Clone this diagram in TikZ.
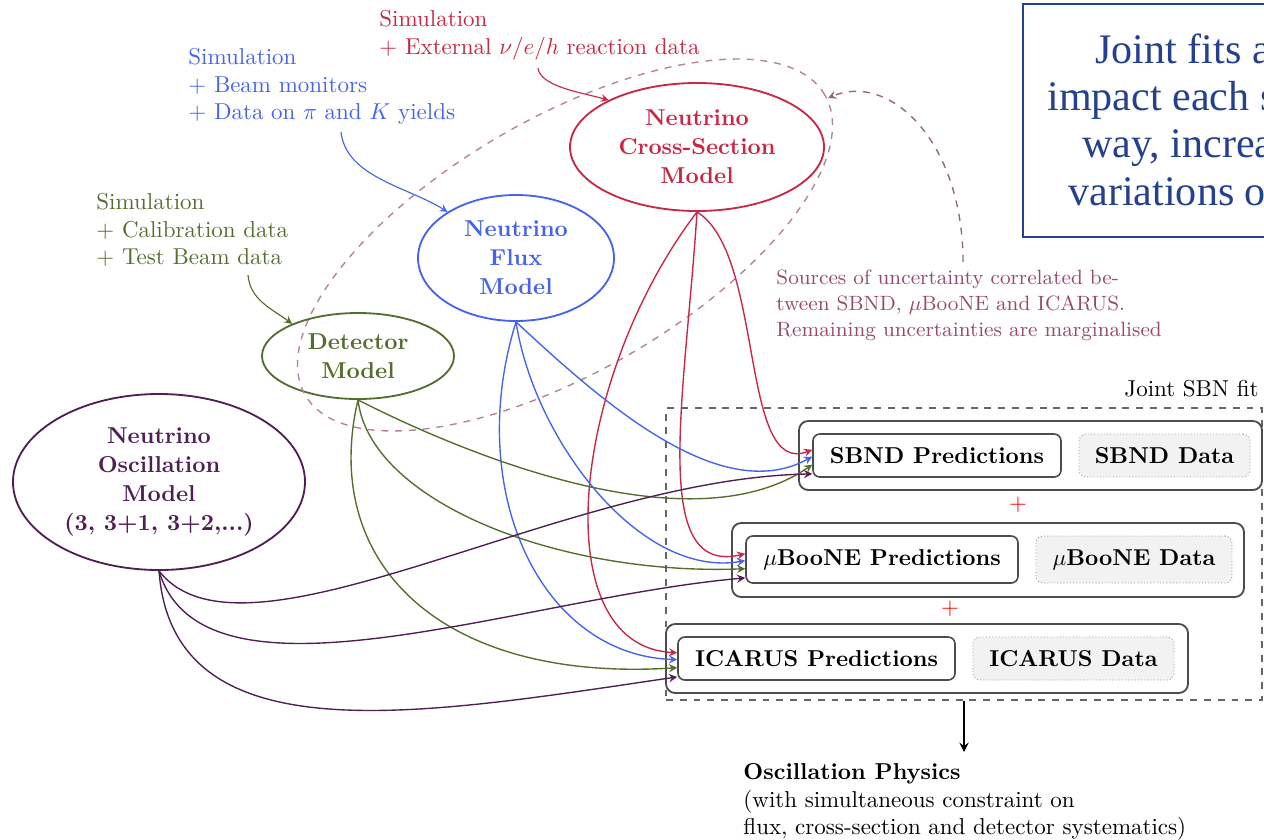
\documentclass[tikz,border=0pt]{standalone}
\usepackage{fontspec}
\newfontfamily\jointfont{Liberation Serif}
\usetikzlibrary{shapes.geometric}
\definecolor{xsecred}{RGB}{200,40,70}
\definecolor{fluxblue}{RGB}{70,100,235}
\definecolor{detgreen}{RGB}{85,110,45}
\definecolor{oscpurple}{RGB}{80,30,85}
\definecolor{corrmauve}{RGB}{180,130,155}
\definecolor{srcmauve}{RGB}{150,75,110}
\definecolor{jointblue}{RGB}{35,65,140}
\newcommand{\pxl}{0.435pt}
\tikzset{>=stealth,
  model/.style={ellipse, draw, line width=0.8pt, font=\bfseries\fontsize{10}{12.6}\selectfont, align=center, inner sep=0pt},
  inputtext/.style={anchor=north west, align=left, inner sep=0pt},
  link/.style={->, line width=0.6pt},
  rowbox/.style={draw=black!70, line width=0.8pt, rounded corners=4pt, minimum height=69*\pxl, inner sep=0pt},
  predbox/.style={draw=black!70, line width=0.7pt, rounded corners=3pt, font=\bfseries, minimum height=43*\pxl, inner sep=0pt},
  databox/.style={draw=black!40, densely dotted, fill=black!5, rounded corners=3pt, font=\bfseries, minimum height=43*\pxl, inner sep=0pt}
}
\begin{document}
\begin{tikzpicture}[x=\pxl,y=-\pxl]
\useasboundingbox (0,0) rectangle (1264,839);
\clip (0,0) rectangle (1264,839);
% models
\node[model, draw=oscpurple, text=oscpurple, minimum width=292*\pxl, minimum height=176*\pxl] (osc) at (159,482) {Neutrino\\Oscillation\\Model\\(3, 3+1, 3+2,...)};
\node[model, draw=detgreen, text=detgreen, minimum width=192*\pxl, minimum height=86*\pxl] (det) at (358,356) {Detector\\Model};
\node[model, draw=fluxblue, text=fluxblue, minimum width=196*\pxl, minimum height=126*\pxl] (flux) at (516,258) {Neutrino\\Flux\\Model};
\node[model, draw=xsecred, text=xsecred, minimum width=254*\pxl, minimum height=128*\pxl] (xsec) at (697,147) {Neutrino\\Cross-Section\\Model};
% inputs
\node[inputtext, text=xsecred] (xsecin) at (379,10) {Simulation\\+ External $\nu/e/h$ reaction data};
\node[inputtext, text=fluxblue] (fluxin) at (188,48) {Simulation\\+ Beam monitors\\+ Data on $\pi$ and $K$ yields};
\node[inputtext, text=detgreen] (detin) at (96,193) {Simulation\\+ Calibration data\\+ Test Beam data};
\coordinate (xsecsrc) at (538,68);
\coordinate (fluxsrc) at (341,132);
\coordinate (detsrc) at (248,275);
\draw[link, line width=0.5pt, xsecred] (xsecsrc) .. controls +(2,18) and +(-30,-8) .. (xsec.152);
\draw[link, line width=0.5pt, fluxblue] (fluxsrc) .. controls +(5,45) and +(-40,-25) .. (flux.146);
\draw[link, line width=0.5pt, detgreen] (detsrc) .. controls +(2,25) and +(-20,-15) .. (det.154);
% correlated sources
\draw[corrmauve, dashed, line width=0.6pt, rotate around={30:(565,245)}] (565,245) ellipse [x radius=130.5pt, y radius=55.2pt];
\node[inputtext, text=srcmauve, font=\fontsize{9}{11.3}\selectfont] (corrtext) at (776,269) {Sources of uncertainty correlated be-\\tween SBND, $\mu$BooNE and ICARUS.\\Remaining uncertainties are marginalised};
\coordinate (corrsrc) at (963,262);
\coordinate (corrtip) at (828,98);
\draw[->, corrmauve!80!black, dashed, line width=0.6pt] (corrsrc) .. controls +(0,-120) and +(62,-26) .. (corrtip);
% joint fits box
\draw[jointblue, line width=1pt] (1023,4) rectangle (1300,237);
\node[anchor=base west, text=jointblue, font=\jointfont\fontsize{18.3}{20}\selectfont, inner sep=0pt] (jointa) at (1095,63) {Joint fits a};
\node[anchor=base west, text=jointblue, font=\jointfont\fontsize{18.3}{20}\selectfont, inner sep=0pt] (jointb) at (1047,110) {impact each s};
\node[anchor=base west, text=jointblue, font=\jointfont\fontsize{18.3}{20}\selectfont, inner sep=0pt] (jointc) at (1082,157) {way, increa};
\node[anchor=base west, text=jointblue, font=\jointfont\fontsize{18.3}{20}\selectfont, inner sep=0pt] (jointd) at (1068,205) {variations o};
% joint SBN fit
\node[draw=black!60, dashed, line width=0.8pt, minimum width=596*\pxl, minimum height=292*\pxl, inner sep=0pt] (fitbox) at (964,554) {};
\node[anchor=base east, inner sep=0pt] (fitlabel) at (1259,396) {Joint SBN fit};
\node[rowbox, minimum width=463*\pxl] (sbndrow) at (1030.5,455.5) {};
\node[predbox, minimum width=248*\pxl] (sbndpred) at (937,455.5) {SBND Predictions};
\node[databox, minimum width=171*\pxl] (sbnddata) at (1164.5,455.5) {SBND Data};
\node[text=red] (plusa) at (1018,505) {$+$};
\node[rowbox, minimum width=512*\pxl, minimum height=74*\pxl] (uboonerow) at (988,560) {};
\node[predbox, minimum width=272*\pxl, minimum height=47*\pxl] (uboonepred) at (882,559.5) {$\mu$BooNE Predictions};
\node[databox, minimum width=196*\pxl, minimum height=47*\pxl] (uboonedata) at (1134,559.5) {$\mu$BooNE Data};
\node[text=red] (plusb) at (950,609) {$+$};
\node[rowbox, minimum width=522*\pxl] (icarusrow) at (927,658.5) {};
\node[predbox, minimum width=277*\pxl] (icaruspred) at (816.5,658.5) {ICARUS Predictions};
\node[databox, minimum width=201*\pxl] (icarusdata) at (1073.5,658.5) {ICARUS Data};
% connectors
\draw[link, xsecred] (xsec.south) .. controls +(68,42) and +(-73,28) .. ([yshift=2.5pt]sbndpred.west);
\draw[link, xsecred] (xsec.south) .. controls +(-12,187) and +(-96,22) .. ([yshift=2.5pt]uboonepred.west);
\draw[link, xsecred] (xsec.south) .. controls +(-127,167) and +(-133,-7) .. ([yshift=2.5pt]icaruspred.west);
\draw[link, fluxblue] (flux.south) .. controls +(83,77) and +(-93,51) .. ([yshift=-0.5pt]sbndpred.west);
\draw[link, fluxblue] (flux.south) .. controls +(18,117) and +(-106,18) .. ([yshift=-0.5pt]uboonepred.west);
\draw[link, fluxblue] (flux.south) .. controls +(-52,167) and +(-138,-5) .. ([yshift=-0.5pt]icaruspred.west);
\draw[link, detgreen] (det.south) .. controls +(102,52) and +(-123,84) .. ([yshift=-4pt]sbndpred.west);
\draw[link, detgreen] (det.south) .. controls +(12,102) and +(-186,7) .. ([yshift=-4pt]uboonepred.west);
\draw[link, detgreen] (det.south) .. controls +(-38,162) and +(-238,15) .. ([yshift=-4pt]icaruspred.west);
\draw[link, oscpurple] (osc.south) .. controls +(84,108) and +(-253,5) .. ([yshift=-8pt]sbndpred.west);
\draw[link, oscpurple] (osc.south) .. controls +(44,148) and +(-226,20) .. ([yshift=-8pt]uboonepred.west);
\draw[link, oscpurple] (osc.south) .. controls +(14,188) and +(-258,38) .. ([yshift=-8pt]icaruspred.west);
% result
\node[inputtext] (physics) at (743,763) {\textbf{Oscillation Physics}\\(with simultaneous constraint on\\flux, cross-section and detector systematics)};
\draw[->, line width=0.8pt, shorten >=4.8pt] (fitbox.south) -- (fitbox.south |- physics.north);
\end{tikzpicture}
\end{document}
